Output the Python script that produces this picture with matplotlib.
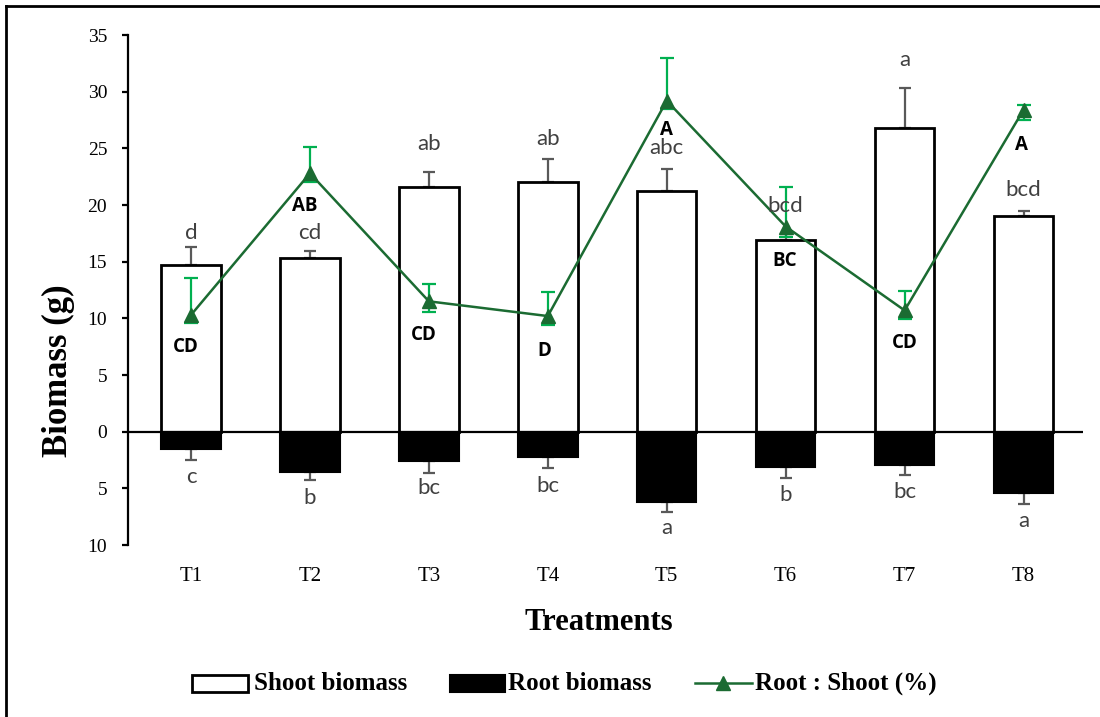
import matplotlib
matplotlib.use("Agg")
import matplotlib.pyplot as plt
from matplotlib.lines import Line2D
from matplotlib.patches import Rectangle
import numpy as np

# ---------------- data ----------------
treatments = ["T1", "T2", "T3", "T4", "T5", "T6", "T7", "T8"]
shoot = [14.7, 15.35, 21.6, 22.05, 21.2, 16.9, 26.8, 19.05]
shoot_err = [1.6, 0.6, 1.35, 2.05, 2.0, 0.5, 3.5, 0.45]
root = [1.53, 3.6, 2.56, 2.24, 6.2, 3.15, 2.94, 5.4]
root_err = [0.95, 0.7, 1.05, 0.95, 0.9, 0.9, 0.85, 0.95]
ratio = [10.3, 22.8, 11.5, 10.2, 29.2, 18.1, 10.7, 28.4]
ratio_err_plus = [3.3, 2.3, 1.55, 2.1, 3.75, 3.5, 1.75, 0.4]
ratio_err_minus = [0.7, 0.8, 0.9, 0.8, 0.75, 0.9, 0.8, 0.9]
shoot_letters = ["d", "cd", "ab", "ab", "abc", "bcd", "a", "bcd"]
root_letters = ["c", "b", "bc", "bc", "a", "b", "bc", "a"]
ratio_letters = ["CD", "AB", "CD", "D", "A", "BC", "CD", "A"]
yticks = [-10, -5, 0, 5, 10, 15, 20, 25, 30, 35]
ytick_labels = ["10", "5", "0", "5", "10", "15", "20", "25", "30", "35"]

# ---------------- layout (label placement, in data units) ----------------
shoot_label_y = [17.5, 17.5, 25.4, 25.8, 25.0, 19.9, 32.8, 21.3]
root_label_y = [-4.0, -5.85, -4.95, -4.8, -8.5, -5.6, -5.3, -7.9]
ratio_label_y = [7.5, 19.9, 8.5, 7.15, 26.6, 15.1, 7.85, 25.3]
ratio_label_dx = [-0.04, -0.04, -0.04, -0.03, 0.0, -0.01, 0.0, -0.02]

SERIF = "Liberation Serif"
SANS = ["Lato", "DejaVu Sans"]
SANS_B = ["Open Sans", "DejaVu Sans"]
GRAY = "#595959"
LGREEN = "#00B050"
DGREEN = "#1B6B32"

W, H = 1100, 717
fig = plt.figure(figsize=(W / 100, H / 100), dpi=100)
ax = fig.add_axes([128 / W, 1 - 545 / H, (1083 - 128) / W, (545 - 35) / H])

x = np.arange(len(treatments))
bw = 0.5

ax.bar(x, shoot, width=bw, color="white", edgecolor="black", linewidth=2.0, zorder=2)
ax.bar(x, [-r for r in root], width=bw, color="black", edgecolor="black", linewidth=1.5, zorder=2)

# gray error bars (shoot upward, root downward)
ax.errorbar(x, shoot, yerr=[np.zeros(len(x)), shoot_err], fmt="none", ecolor=GRAY,
            elinewidth=1.6, capsize=4.5, capthick=1.6, zorder=1.5)
ax.errorbar(x, [-r for r in root], yerr=[root_err, np.zeros(len(x))], fmt="none", ecolor=GRAY,
            elinewidth=1.6, capsize=4.5, capthick=1.6, zorder=1.5)

ax.axhline(0, color="black", linewidth=1.6, zorder=3)

# ratio line
ax.errorbar(x, ratio, yerr=[ratio_err_minus, ratio_err_plus], fmt="none", ecolor=LGREEN,
            elinewidth=1.6, capsize=5, capthick=1.6, zorder=4)
ax.plot(x, ratio, color=DGREEN, linewidth=1.8, marker="^", markersize=10,
        markerfacecolor=DGREEN, markeredgecolor=DGREEN, zorder=5)

# letters
for i in range(len(x)):
    ax.text(x[i], shoot_label_y[i], shoot_letters[i], ha="center", va="center",
            fontsize=16, color="#404040", family=SANS, zorder=6)
    ax.text(x[i], root_label_y[i], root_letters[i], ha="center", va="center",
            fontsize=16, color="#404040", family=SANS, zorder=6)
    ax.text(x[i] + ratio_label_dx[i], ratio_label_y[i], ratio_letters[i], ha="center", va="center",
            fontsize=13.5, color="black", family=SANS_B, fontweight="bold", zorder=6)

ax.set_xlim(-0.53, 7.5)
ax.set_ylim(-10, 35)
ax.set_yticks(yticks)
ax.set_yticklabels(ytick_labels, family=SERIF, fontsize=14)
ax.set_xticks(x)
ax.set_xticklabels(treatments, family=SERIF, fontsize=15)
ax.tick_params(axis="x", length=0, pad=16)
ax.tick_params(axis="y", length=4, width=1.6, direction="out", pad=11)
for s in ["top", "right", "bottom"]:
    ax.spines[s].set_visible(False)
ax.spines["left"].set_linewidth(1.6)
ax.patch.set_alpha(0)

fig.text(58 / W, 1 - 371 / H, "Biomass (g)", rotation=90, ha="center", va="center",
         family=SERIF, fontsize=25, fontweight="bold")
fig.text(599 / W, 1 - 623 / H, "Treatments", ha="center", va="center",
         family=SERIF, fontsize=22, fontweight="bold")

# legend (manual)
ly = 1 - 683 / H
bh = 17 / H
fig.add_artist(Rectangle((192 / W, ly - bh / 2), 56 / W, bh, transform=fig.transFigure,
                         facecolor="white", edgecolor="black", linewidth=2))
fig.text(254 / W, ly, "Shoot biomass", ha="left", va="center", family=SERIF,
         fontsize=18, fontweight="bold")
fig.add_artist(Rectangle((450 / W, ly - bh / 2), 55 / W, bh, transform=fig.transFigure,
                         facecolor="black", edgecolor="black", linewidth=1.5))
fig.text(508 / W, ly, "Root biomass", ha="left", va="center", family=SERIF,
         fontsize=18, fontweight="bold")
fig.add_artist(Line2D([695 / W, 752 / W], [ly, ly], transform=fig.transFigure,
                      color=DGREEN, linewidth=1.8))
fig.add_artist(Line2D([723 / W], [ly], transform=fig.transFigure, marker="^",
                      markersize=10, color=DGREEN))
fig.text(755 / W, ly, "Root : Shoot (%)", ha="left", va="center", family=SERIF,
         fontsize=18, fontweight="bold")

# outer frame (left and top edges)
fig.add_artist(Line2D([5.5 / W, 5.5 / W], [0, 1 - 5.5 / H], transform=fig.transFigure,
                      color="black", linewidth=2))
fig.add_artist(Line2D([5.5 / W, 1], [1 - 5.5 / H, 1 - 5.5 / H], transform=fig.transFigure,
                      color="black", linewidth=2))

fig.savefig("out.png", dpi=100, facecolor="white")
